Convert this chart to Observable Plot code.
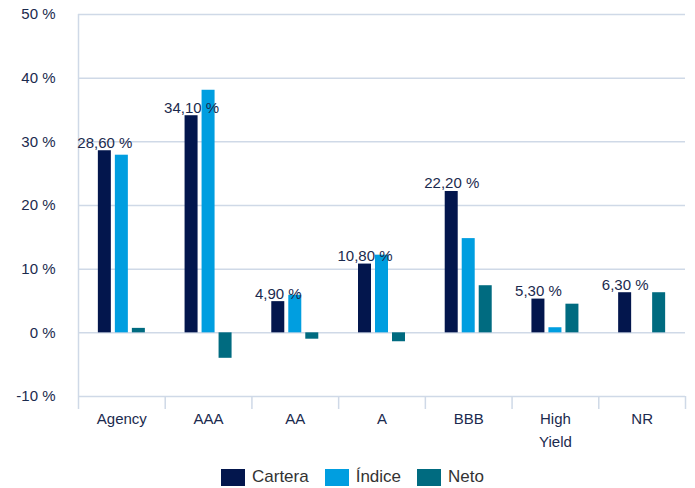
<!DOCTYPE html>
<html>
<head>
<meta charset="utf-8">
<script src="https://cdn.jsdelivr.net/npm/d3@7"></script>
<script src="https://cdn.jsdelivr.net/npm/@observablehq/plot@0.6"></script>
<style>
  html, body { margin: 0; padding: 0; background: #fff; }
  body { width: 695px; height: 488px; overflow: hidden; font-family: "Liberation Sans", Arial, sans-serif; }
  #legend { display: flex; justify-content: center; align-items: center; margin-top: 12px; padding-left: 10px; font-size: 17px; color: #333; }
  #legend .item { display: flex; align-items: center; margin: 0 8px; }
  #legend .sw { width: 24px; height: 17px; margin-right: 7px; }
</style>
</head>
<body>
<div id="chart"></div>
<div id="legend"></div>
<script>
const categories = ["Agency", "AAA", "AA", "A", "BBB", "High\nYield", "NR"];
const series = ["Cartera", "Índice", "Neto"];
const cartera = [28.6, 34.1, 4.9, 10.8, 22.2, 5.3, 6.3];
const indice  = [27.9, 38.1, 5.9, 12.2, 14.8, 0.8, 0];
const neto    = [0.7, -4.0, -1.0, -1.4, 7.4, 4.5, 6.3];
const yTicks = [-10, 0, 10, 20, 30, 40, 50];
const colors = ["#03164d", "#009ee0", "#006b80"];

const values = [cartera, indice, neto];
// layout within each category band (fractions of band width)
const bandPx = (685 - 78) / categories.length;
const barW = 13 / bandPx, step = 17 / bandPx, outer = (bandPx - 47) / 2 / bandPx;

const rows = [];
categories.forEach((c, i) => {
  series.forEach((s, k) => {
    const v = values[k][i];
    if (v === 0) return;
    const x1 = i + outer + k * step;
    rows.push({cat: c, series: s, value: v, x1, x2: x1 + barW, xc: x1 + barW / 2});
  });
});
const labelRows = rows.filter(d => d.series === "Cartera");
const fmt = v => v.toFixed(2).replace(".", ",") + " %";
const textColor = "#1b2a4e";
const gridColor = "#cfd9e7";

const plot = Plot.plot({
  width: 695,
  height: 455,
  marginLeft: 78,
  marginRight: 10,
  marginTop: 14,
  marginBottom: 59,
  style: {fontFamily: "'Liberation Sans', Arial, sans-serif", fontSize: "15px", color: textColor, background: "#fff"},
  x: {domain: [0, categories.length], axis: null},
  y: {domain: [-10, 50], axis: null},
  color: {domain: series, range: colors},
  marks: [
    Plot.ruleY(yTicks, {stroke: gridColor, strokeWidth: 1.5}),
    Plot.axisY({ticks: yTicks, tickSize: 0, tickPadding: 23, label: null, tickFormat: d => `${d} %`, fill: textColor, fontSize: 15}),
    Plot.axisX({ticks: d3.range(categories.length + 1), tickSize: 13, label: null, tickFormat: () => "", stroke: gridColor, strokeWidth: 1.5, strokeOpacity: 1}),
    Plot.ruleX([0], {y1: -10, y2: 50, stroke: gridColor, strokeWidth: 1.5}),
    Plot.text(categories, {x: (d, i) => i + 0.5, frameAnchor: "bottom", lineAnchor: "top", dy: 12, lineHeight: 1.5, text: d => d, fill: textColor, fontSize: 15}),
    Plot.rectY(rows, {x1: "x1", x2: "x2", y1: 0, y2: "value", fill: "series"}),
    Plot.text(labelRows, {x: "xc", y: "value", text: d => fmt(d.value), lineAnchor: "bottom", dy: -3, fill: textColor, fontSize: 15})
  ]
});
document.getElementById("chart").appendChild(plot);

const legend = document.getElementById("legend");
series.forEach((s, k) => {
  const item = document.createElement("div");
  item.className = "item";
  item.innerHTML = `<div class="sw" style="background:${colors[k]}"></div><span>${s}</span>`;
  legend.appendChild(item);
});
</script>
</body>
</html>
